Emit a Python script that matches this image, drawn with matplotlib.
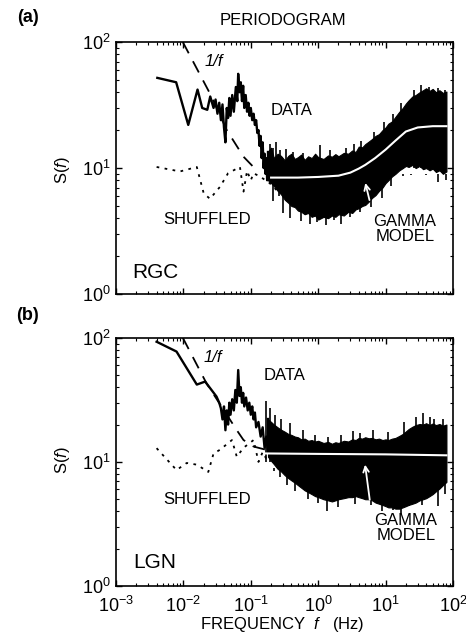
import matplotlib
matplotlib.use("Agg")
import matplotlib.pyplot as plt
from matplotlib.ticker import LogLocator, NullFormatter, FixedFormatter, FixedLocator

plt.rcParams['font.family'] = ['Liberation Sans', 'DejaVu Sans']
plt.rcParams['mathtext.fontset'] = 'custom'
plt.rcParams['mathtext.rm'] = 'Liberation Sans'
plt.rcParams['mathtext.it'] = 'Liberation Sans:italic'

# ---- (a) RGC ----
# low-frequency part of the periodogram (single line)
f_low_a = [0.0041, 0.0078, 0.0118, 0.0162, 0.019, 0.0226, 0.025, 0.028, 0.030, 0.032,
           0.034, 0.036, 0.038, 0.040, 0.042, 0.044, 0.046, 0.048, 0.050, 0.053,
           0.056, 0.060, 0.063, 0.065, 0.068, 0.071, 0.074, 0.077, 0.080, 0.084,
           0.088, 0.092, 0.096, 0.100, 0.105, 0.110, 0.115, 0.120, 0.125, 0.130,
           0.135, 0.140, 0.145, 0.150, 0.155, 0.160, 0.165, 0.170, 0.175, 0.180]
s_low_a = [52, 48, 22, 42, 30, 29, 37, 30, 35, 27,
           33, 24, 32, 21, 16, 30, 25, 36, 26, 38,
           28, 44, 34, 56, 40, 48, 34, 45, 30, 38,
           28, 33, 26, 30, 24, 27, 22, 24, 19, 20,
           15, 18, 12, 16, 10, 13, 9, 12, 8, 10]

# dense high-frequency part: upper / lower envelope of the black band
f_band = [0.18, 0.2, 0.22, 0.25, 0.28, 0.32, 0.36, 0.4, 0.45, 0.5,
          0.56, 0.63, 0.71, 0.8, 0.9, 1.0, 1.2, 1.4, 1.6, 1.8,
          2.0, 2.4, 2.8, 3.2, 3.6, 4.0, 4.5, 5.0, 5.6, 6.3,
          7.1, 8.0, 9.0, 10, 11, 12.5, 14, 16, 18, 20,
          22, 25, 28, 32, 36, 40, 45, 50, 56, 63,
          71, 80]
up_a = [13.5, 14.5, 12, 13, 12.5, 11.5, 12.5, 13, 11.8, 12.2,
        12.8, 11.6, 12.4, 12, 13, 12.2, 11.8, 12.6, 12.3, 12.9,
        12.4, 13.2, 13, 13.8, 13.4, 14.8, 14.6, 15.5, 16.2, 17,
        18, 18.6, 20, 21, 22.5, 23.5, 25.5, 28, 30, 32.5,
        34.5, 37, 38, 40, 41.5, 43, 41, 42.5, 40, 41.5,
        39.5, 40.5]
low_a = [8, 7.6, 7.2, 6.6, 6.2, 5.6, 5.3, 5.0, 4.9, 4.6,
         4.5, 4.3, 4.4, 4.1, 4.2, 3.9, 4.1, 4.0, 4.2, 4.1,
         4.3, 4.2, 4.5, 4.4, 4.7, 4.8, 5.0, 5.1, 5.4, 5.8,
         6.1, 6.6, 7.0, 7.6, 8.0, 8.6, 9.0, 9.6, 10.0, 10.4,
         10.2, 10.6, 10.0, 10.4, 9.8, 10.0, 9.6, 9.9, 9.3, 9.6,
         9.0, 9.4]
# isolated spikes sticking out of the band
spk_up_a_f = [0.19, 0.21, 0.24, 0.27, 0.33, 0.42, 0.6, 1.05, 1.5, 2.6, 3.4, 4.3, 6.8, 9.5,
              13, 17, 26, 34, 44, 60, 75]
spk_up_a_s = [15.5, 14.5, 16, 13.8, 14.2, 13.5, 13.2, 15.2, 13.8, 14.5, 15.5, 16.5, 19.5, 23,
              27, 33, 42, 46, 44, 43, 42]
spk_low_a_f = [0.21, 0.26, 0.3, 0.38, 0.55, 0.75, 0.95, 1.3, 1.7, 2.2, 3.0, 4.2, 6, 9,
               12, 18, 24, 40, 60, 78]
spk_low_a_s = [5.5, 6.0, 4.4, 4.0, 3.8, 3.6, 3.7, 3.5, 3.9, 3.6, 4.1, 4.5, 4.9, 5.8,
               7.2, 8.6, 8.8, 8.8, 7.8, 8.0]

f_shuf_a = [0.0040, 0.0089, 0.0158, 0.020, 0.0248, 0.0349, 0.046, 0.069, 0.078,
            0.088, 0.10, 0.11, 0.14, 0.19, 0.24]
s_shuf_a = [10.2, 9.4, 10.2, 6.3, 5.7, 7.1, 9.1, 10.2, 6.5, 9.5, 8.0, 9.1, 8.5, 7.6, 6.7]

f_inv_a = [0.0098, 0.0248, 0.044, 0.078, 0.122]
s_inv_a = [100, 39, 20, 12.3, 9.6]

f_gam_a = [0.2, 0.5, 1, 2, 3, 4, 5, 7, 10, 14, 20, 30, 50, 80]
s_gam_a = [8.4, 8.4, 8.5, 8.7, 9.2, 9.9, 10.6, 12, 14, 16.5, 19.5, 21, 21.5, 21.5]

# ---- (b) LGN ----
f_low_b = [0.0040, 0.0079, 0.0158, 0.021, 0.031, 0.034, 0.036, 0.038, 0.040, 0.042,
           0.044, 0.046, 0.048, 0.050, 0.053, 0.056, 0.059, 0.062, 0.065, 0.068,
           0.071, 0.074, 0.077, 0.080, 0.085, 0.090, 0.095, 0.100, 0.105, 0.110,
           0.115, 0.120, 0.130, 0.140, 0.150, 0.160, 0.170, 0.180]
s_low_b = [93, 77.5, 42, 44.4, 33.6, 30, 27, 22, 28, 18,
           26, 20, 30, 24, 32, 26, 38, 30, 55, 34,
           40, 30, 36, 28, 33, 26, 30, 24, 28, 22,
           25, 19, 21, 16, 19, 13, 16, 12]

up_b = [22, 21, 20, 19, 18.2, 17.5, 16.8, 16.5, 16, 15.8,
        15.2, 15.4, 14.8, 15, 14.6, 14.8, 14.2, 14.5, 14, 14.4,
        14.2, 14.8, 14.6, 15.2, 15, 15.6, 15.4, 15.8, 15.5, 15.6,
        15.2, 15.4, 15, 15.2, 15, 15.4, 15.6, 16.2, 16.8, 17.6,
        18.4, 19.2, 19.8, 20.2, 20, 20.5, 19.8, 20.4, 19.8, 20.2,
        19.6, 20]
low_b = [11, 10.2, 9.6, 8.8, 8.4, 7.8, 7.4, 7.1, 6.8, 6.5,
         6.2, 5.9, 5.7, 5.5, 5.3, 5.2, 5.0, 4.9, 4.8, 4.9,
         5.0, 5.1, 5.2, 5.2, 5.3, 5.2, 5.1, 5.0, 5.0, 4.9,
         4.7, 4.6, 4.5, 4.4, 4.3, 4.3, 4.2, 4.2, 4.3, 4.4,
         4.5, 4.6, 4.7, 4.9, 5.0, 5.1, 5.3, 5.5, 5.8, 6.1,
         6.5, 6.9]
spk_up_b_f = [0.17, 0.19, 0.23, 0.28, 0.38, 0.6, 0.9, 1.4, 2.2, 3.3, 4.2, 6.5, 11, 19,
              28, 36, 45, 53, 70]
spk_up_b_s = [31, 27, 24, 22, 20.5, 18, 16.5, 16, 16.5, 17.9, 17, 18, 17.5, 21,
              23, 24.6, 23, 22, 22]
spk_low_b_f = [0.22, 0.27, 0.34, 0.45, 0.7, 1.0, 1.33, 2.0, 3.5, 6, 9, 13, 17, 22,
               35, 60, 75]
spk_low_b_s = [8.5, 7.5, 6.5, 5.8, 5.0, 4.7, 4.0, 4.3, 4.6, 4.5, 4.0, 4.1, 3.8, 4.4,
               4.5, 4.4, 5.5]

f_shuf_b = [0.0040, 0.0079, 0.0112, 0.0158, 0.0234, 0.028, 0.0347, 0.0525, 0.062,
            0.078, 0.11, 0.13, 0.15, 0.18]
s_shuf_b = [12.9, 8.6, 9.8, 9.5, 8.3, 11.7, 12.5, 15, 11, 13, 15, 10, 12, 10]

f_inv_b = [0.0098, 0.022, 0.062, 0.078, 0.11, 0.17]
s_inv_b = [100, 43, 18, 15, 13.3, 12.5]

f_gam_b = [0.16, 1, 10, 80]
s_gam_b = [11.7, 11.6, 11.5, 11.3]

xticks = [1e-3, 1e-2, 1e-1, 1e0, 1e1, 1e2]
xtick_labels = ['$10^{-3}$', '$10^{-2}$', '$10^{-1}$', '$10^{0}$', '$10^{1}$', '$10^{2}$']
yticks = [1e0, 1e1, 1e2]
ytick_labels = ['$10^{0}$', '$10^{1}$', '$10^{2}$']

fig = plt.figure(figsize=(4.66, 6.33), dpi=100)
ax_a = fig.add_axes([0.249, 0.5355, 0.723, 0.398])
ax_b = fig.add_axes([0.249, 0.0743, 0.723, 0.392])


def draw_panel(ax, f_low, s_low, up, low, spk_up_f, spk_up_s, spk_low_f, spk_low_s,
               f_shuf, s_shuf, f_inv, s_inv, f_gam, s_gam):
    ax.plot(f_low, s_low, color='black', lw=1.7, zorder=3)
    ax.plot([f_low[-1], f_band[0]], [s_low[-1], up[0]], color='black', lw=1.7, zorder=3)
    ax.fill_between(f_band, low, up, color='black', lw=0.8, edgecolor='black', zorder=3)
    ax.vlines(spk_up_f, 10, spk_up_s, color='black', lw=1.2, zorder=3)
    ax.vlines(spk_low_f, spk_low_s, 9, color='black', lw=1.2, zorder=3)
    ax.plot(f_shuf, s_shuf, color='black', lw=1.3, ls=(0, (1.5, 3)), zorder=2)
    ax.plot(f_inv, s_inv, color='black', lw=1.3, ls=(0, (7, 5)), zorder=2)
    ax.plot(f_gam, s_gam, color='white', lw=1.5, zorder=4)
    ax.set_xscale('log')
    ax.set_yscale('log')
    ax.set_xlim(1e-3, 1e2)
    ax.set_ylim(1e0, 1e2)
    ax.xaxis.set_major_locator(FixedLocator(xticks))
    ax.yaxis.set_major_locator(FixedLocator(yticks))
    ax.xaxis.set_minor_locator(LogLocator(base=10, subs=range(2, 10)))
    ax.yaxis.set_minor_locator(LogLocator(base=10, subs=range(2, 10)))
    ax.xaxis.set_minor_formatter(NullFormatter())
    ax.yaxis.set_minor_formatter(NullFormatter())
    ax.yaxis.set_major_formatter(FixedFormatter(ytick_labels))
    ax.tick_params(which='both', direction='in', top=True, right=True, labelsize=13, pad=4)
    ax.tick_params(axis='x', which='major', pad=7)
    ax.tick_params(which='major', length=4, width=1)
    ax.tick_params(which='minor', length=2.5, width=0.8)
    for sp in ax.spines.values():
        sp.set_linewidth(1.2)


draw_panel(ax_a, f_low_a, s_low_a, up_a, low_a, spk_up_a_f, spk_up_a_s, spk_low_a_f, spk_low_a_s,
           f_shuf_a, s_shuf_a, f_inv_a, s_inv_a, f_gam_a, s_gam_a)
draw_panel(ax_b, f_low_b, s_low_b, up_b, low_b, spk_up_b_f, spk_up_b_s, spk_low_b_f, spk_low_b_s,
           f_shuf_b, s_shuf_b, f_inv_b, s_inv_b, f_gam_b, s_gam_b)

ax_a.xaxis.set_major_formatter(NullFormatter())
ax_b.xaxis.set_major_formatter(FixedFormatter(xtick_labels))

# annotations
ax_a.text(0.291, 0.921, '1/f', transform=ax_a.transAxes, fontsize=12, style='italic', ha='center', va='center')
ax_a.text(0.522, 0.730, 'DATA', transform=ax_a.transAxes, fontsize=12, ha='center', va='center')
ax_a.text(0.270, 0.294, 'SHUFFLED', transform=ax_a.transAxes, fontsize=12, ha='center', va='center')
ax_a.text(0.858, 0.258, 'GAMMA\nMODEL', transform=ax_a.transAxes, fontsize=12, ha='center', va='center',
          linespacing=0.95)
ax_a.text(0.047, 0.087, 'RGC', transform=ax_a.transAxes, fontsize=15, ha='left', va='center')
ax_a.annotate('', xy=(4.9, 8.0), xytext=(5.9, 5.3),
              arrowprops=dict(arrowstyle='->', color='white', lw=1.3), zorder=5)

ax_b.text(0.288, 0.919, '1/f', transform=ax_b.transAxes, fontsize=12, style='italic', ha='center', va='center')
ax_b.text(0.501, 0.847, 'DATA', transform=ax_b.transAxes, fontsize=12, ha='center', va='center')
ax_b.text(0.270, 0.347, 'SHUFFLED', transform=ax_b.transAxes, fontsize=12, ha='center', va='center')
ax_b.text(0.861, 0.234, 'GAMMA\nMODEL', transform=ax_b.transAxes, fontsize=12, ha='center', va='center',
          linespacing=0.95)
ax_b.text(0.050, 0.093, 'LGN', transform=ax_b.transAxes, fontsize=15, ha='left', va='center')
ax_b.annotate('', xy=(4.9, 10.0), xytext=(5.9, 4.7),
              arrowprops=dict(arrowstyle='->', color='white', lw=1.3), zorder=5)

fig.text(0.060, 0.972, '(a)', fontsize=13, fontweight='bold', ha='center', va='center')
fig.text(0.060, 0.502, '(b)', fontsize=13, fontweight='bold', ha='center', va='center')
fig.text(0.607, 0.967, 'PERIODOGRAM', fontsize=12, ha='center', va='center')
fig.text(0.135, 0.731, 'S($\\it{f}$)', fontsize=12, rotation=90, ha='center', va='center')
fig.text(0.135, 0.273, 'S($\\it{f}$)', fontsize=12, rotation=90, ha='center', va='center')
fig.text(0.605, 0.013, 'FREQUENCY  $\\it{f}$   (Hz)', fontsize=12, ha='center', va='center')

fig.savefig('out.png', dpi=100)
